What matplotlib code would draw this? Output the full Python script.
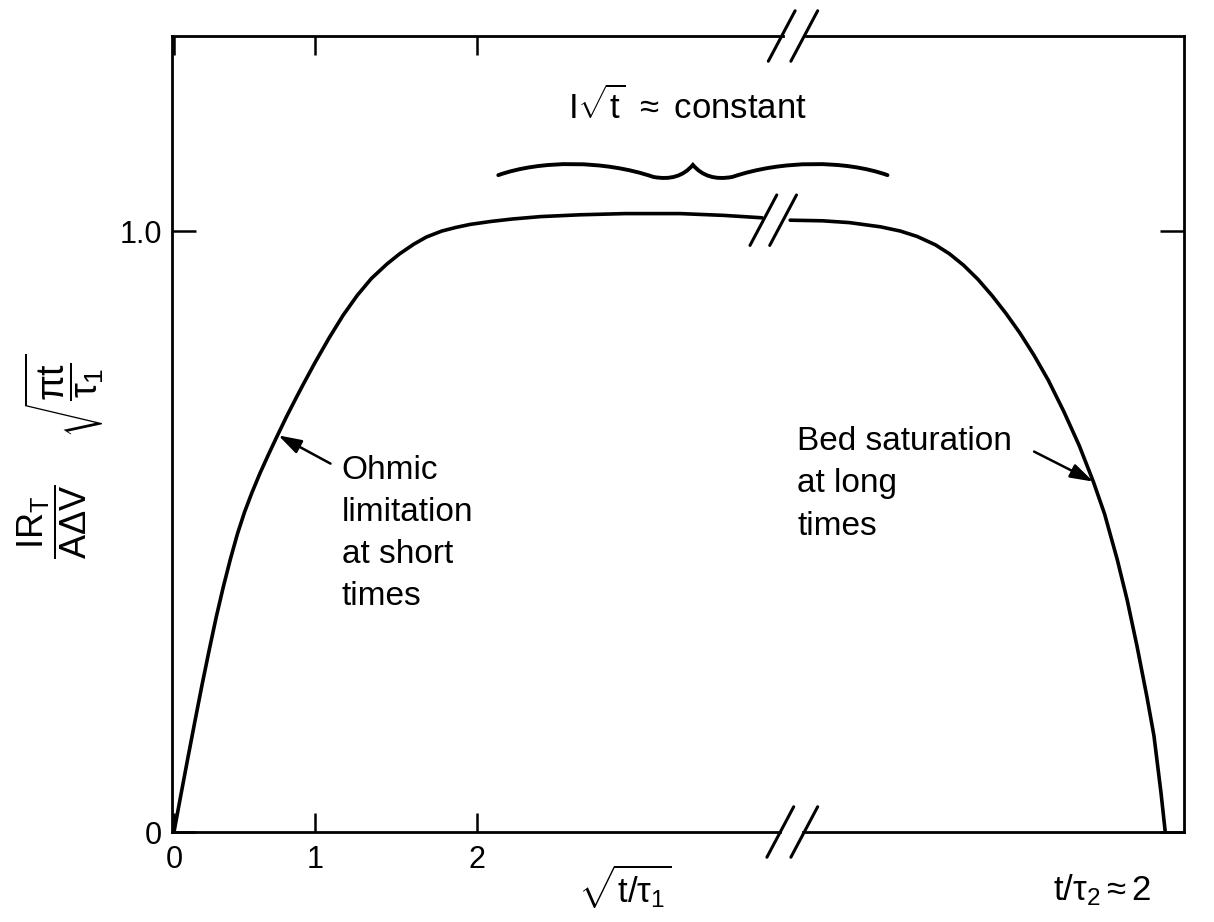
import matplotlib
matplotlib.use("Agg")
import matplotlib.pyplot as plt
from matplotlib.path import Path
from matplotlib.patches import PathPatch

# Fonts: Helvetica-like look, upright math letters
plt.rcParams["font.family"] = "Liberation Sans"
plt.rcParams["mathtext.fontset"] = "custom"
plt.rcParams["mathtext.rm"] = "Liberation Sans"
plt.rcParams["mathtext.it"] = "Liberation Sans"
plt.rcParams["mathtext.bf"] = "Liberation Sans:bold"
plt.rcParams["mathtext.sf"] = "Liberation Sans"

# Data
# left branch: sqrt(t/tau1) scale, before the axis break
x_short = [0.00, 0.05, 0.10, 0.15, 0.20, 0.25, 0.30, 0.35, 0.40, 0.45,
           0.50, 0.55, 0.61, 0.67, 0.728, 0.80, 0.87, 0.917, 1.00, 1.10,
           1.20, 1.30, 1.40, 1.51, 1.60, 1.70, 1.79, 1.90, 2.00, 2.10,
           2.25, 2.40, 2.60, 2.88, 3.20, 3.59, 3.90, 4.17]
y_short = [0.000, 0.063, 0.125, 0.186, 0.246, 0.303, 0.358, 0.408, 0.454, 0.496,
           0.532, 0.563, 0.597, 0.628, 0.657, 0.692, 0.724, 0.745, 0.781, 0.822,
           0.860, 0.893, 0.921, 0.945, 0.962, 0.978, 0.990, 1.000, 1.006, 1.011,
           1.016, 1.020, 1.024, 1.027, 1.029, 1.029, 1.026, 1.022]
# right branch: after the axis break (long times, t/tau2 -> 2)
x_long = [4.37, 4.60, 4.79, 5.01, 5.15, 5.27, 5.40, 5.50, 5.60, 5.70,
          5.80, 5.90, 6.00, 6.10, 6.20, 6.31, 6.42, 6.52, 6.60, 6.69,
          6.76, 6.83, 6.90, 6.95, 7.00, 7.03]
y_long = [1.018, 1.017, 1.014, 1.007, 1.000, 0.991, 0.977, 0.962, 0.943, 0.920,
          0.893, 0.863, 0.830, 0.793, 0.752, 0.700, 0.643, 0.583, 0.529, 0.453,
          0.386, 0.309, 0.225, 0.160, 0.065, 0.000]

xtick_pos = [0, 1, 2.15]
xtick_labels = ["0", "1", "2"]
ytick_pos = [0, 1.0]
ytick_labels = ["0", "1.0"]

ohmic_lines = ["Ohmic", "limitation", "at short", "times"]
bed_lines = ["Bed saturation", "at long", "times"]

x_break = 4.3  # where the x axis is broken

fig = plt.figure(figsize=(12.14, 9.22), dpi=100)
ax = fig.add_axes([172 / 1214, 90 / 922, 1012 / 1214, 796 / 922])

ax.plot(x_short, y_short, color="black", lw=2.6, solid_capstyle="round",
        solid_joinstyle="round")
ax.plot(x_long, y_long, color="black", lw=2.6, solid_capstyle="round",
        solid_joinstyle="round")

ax.set_xlim(-0.014, 7.163)
ax.set_ylim(0, 1.3245)

# ticks
ax.set_xticks(xtick_pos)
ax.set_xticklabels(xtick_labels)
ax.set_yticks(ytick_pos)
ax.set_yticklabels(ytick_labels)
ax.tick_params(direction="in", top=True, right=True, labeltop=False,
               labelright=False, width=1.8, labelsize=22)
ax.tick_params(axis="x", length=14, pad=9)
ax.tick_params(axis="y", length=17, pad=7)

# spines: left/right solid, top/bottom broken
for s in ["left", "right"]:
    ax.spines[s].set_linewidth(2.0)
ax.spines["top"].set_visible(False)
ax.spines["bottom"].set_visible(False)
xt = ax.get_xaxis_transform()
x0, x1 = ax.get_xlim()
ax.plot([x0, x_break], [0, 0], transform=xt, color="black", lw=2.0, clip_on=False)
ax.plot([x_break + 0.16, x1], [0, 0], transform=xt, color="black", lw=2.0, clip_on=False)
ax.plot([x0, x_break + 0.02], [1, 1], transform=xt, color="black", lw=2.0, clip_on=False)
ax.plot([x_break + 0.18, x1], [1, 1], transform=xt, color="black", lw=2.0, clip_on=False)


def break_mark(xc, yc, gap=0.16):
    for off in (0, gap):
        ax.plot([xc + off - 0.095, xc + off + 0.095], [yc - 0.042, yc + 0.042],
                color="black", lw=2.2, clip_on=False, solid_capstyle="round")


break_mark(x_break + 0.01, 1.3245)
break_mark(x_break - 0.12, 1.018, gap=0.14)
break_mark(x_break, 0.0, gap=0.17)

# brace over the plateau
verts = [(2.30, 1.093), (2.60, 1.118), (3.05, 1.118), (3.40, 1.090),
         (3.58, 1.082), (3.68, 1.110),
         (3.78, 1.082), (3.96, 1.090),
         (4.31, 1.118), (4.76, 1.118), (5.06, 1.093)]
codes = [Path.MOVETO, Path.CURVE4, Path.CURVE4, Path.CURVE4,
         Path.CURVE3, Path.CURVE3,
         Path.CURVE3, Path.CURVE3,
         Path.CURVE4, Path.CURVE4, Path.CURVE4]
ax.add_patch(PathPatch(Path(verts, codes), fill=False, lw=2.8,
                       edgecolor="black", clip_on=False, capstyle="round"))
ax.text(3.645, 1.186, r"$\mathrm{I}\sqrt{\mathrm{t}}\ \approx\ \mathrm{constant}$",
        ha="center", va="baseline", fontsize=25)

# annotations
for i, line in enumerate(ohmic_lines):
    ax.text(1.19, 0.588 - i * 0.07, line, ha="left", va="baseline", fontsize=24)
for i, line in enumerate(bed_lines):
    ax.text(4.42, 0.635 - i * 0.07, line, ha="left", va="baseline", fontsize=24)

arrow = dict(arrowstyle="-|>,head_length=0.7,head_width=0.22", color="black",
             lw=1.8, mutation_scale=20, shrinkA=0, shrinkB=0)
ax.annotate("", xy=(0.74, 0.660), xytext=(1.11, 0.613), arrowprops=arrow)
ax.annotate("", xy=(6.52, 0.583), xytext=(6.10, 0.633), arrowprops=arrow)

# y label: fraction times big radical, rotated
fig.text(52 / 1214, 1 - 522 / 922, r"$\dfrac{\mathrm{IR_T}}{\mathrm{A\Delta V}}$",
         rotation=90, ha="center", va="center", fontsize=26)
fig.text(64 / 1214, 1 - 396 / 922, r"$\sqrt{\dfrac{\pi t}{\tau_1}}$",
         rotation=90, ha="center", va="center", fontsize=27)

# x labels
fig.text(625 / 1214, 1 - 903 / 922, r"$\sqrt{t/\tau_1}$",
         ha="center", va="baseline", fontsize=25)
fig.text(1053 / 1214, 1 - 900 / 922, r"$t/\tau_2 \approx 2$",
         ha="left", va="baseline", fontsize=25)

fig.savefig("out.png", dpi=100)
